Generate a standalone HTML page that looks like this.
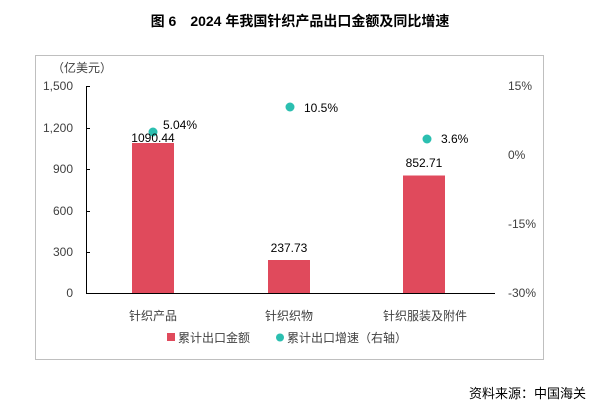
<!DOCTYPE html>
<html><head><meta charset="utf-8"><style>
body{margin:0;background:#fff;width:600px;height:414px;overflow:hidden}
svg text{font-family:"Liberation Sans","Noto Sans CJK SC",sans-serif}
</style></head><body>
<svg width="600" height="414" xmlns="http://www.w3.org/2000/svg">
<text x="300" y="26" font-size="14" font-weight="bold" text-anchor="middle" fill="#000">图 6　2024 年我国针织产品出口金额及同比增速</text>
<rect x="35.5" y="55.5" width="508" height="304" fill="none" stroke="#bfbfbf" stroke-width="1"/>
<text x="52" y="72" font-size="12" fill="#404040">（亿美元）</text>
<g font-size="12" fill="#404040" text-anchor="end">
<text x="73" y="90">1,500</text><text x="73" y="132">1,200</text><text x="73" y="173">900</text>
<text x="73" y="215">600</text><text x="73" y="256">300</text><text x="73" y="297">0</text>
</g>
<g font-size="12" fill="#404040">
<text x="508" y="90">15%</text><text x="508" y="159">0%</text><text x="508" y="228">-15%</text><text x="508" y="297">-30%</text>
</g>
<g stroke="#000" stroke-width="1">
<line x1="86.5" y1="86" x2="86.5" y2="293"/>
<line x1="86" y1="293.5" x2="495" y2="293.5"/>
<line x1="86" y1="86.5" x2="90" y2="86.5"/><line x1="86" y1="128.5" x2="90" y2="128.5"/>
<line x1="86" y1="169.5" x2="90" y2="169.5"/><line x1="86" y1="211.5" x2="90" y2="211.5"/>
<line x1="86" y1="252.5" x2="90" y2="252.5"/>
</g>
<g fill="#e04a5c">
<rect x="132" y="143" width="42" height="150"/>
<rect x="268" y="260" width="42" height="33"/>
<rect x="403" y="175.5" width="42" height="117.5"/>
</g>
<g fill="#2bbfb0">
<circle cx="153" cy="132" r="4.5"/><circle cx="290" cy="107" r="4.5"/><circle cx="427" cy="139" r="4.5"/>
</g>
<g font-size="12" fill="#000">
<text x="153" y="142" text-anchor="middle">1090.44</text>
<text x="163" y="129">5.04%</text>
<text x="289" y="252" text-anchor="middle">237.73</text>
<text x="304" y="112">10.5%</text>
<text x="424" y="167" text-anchor="middle">852.71</text>
<text x="441" y="143">3.6%</text>
</g>
<g font-size="12" fill="#404040" text-anchor="middle">
<text x="153" y="320">针织产品</text><text x="289" y="320">针织织物</text><text x="425" y="320">针织服装及附件</text>
</g>
<rect x="167" y="333" width="8" height="8" fill="#e04a5c"/>
<text x="178" y="342" font-size="12" fill="#404040">累计出口金额</text>
<circle cx="280" cy="337.5" r="4" fill="#2bbfb0"/>
<text x="287" y="342" font-size="12" fill="#404040">累计出口增速（右轴）</text>
<text x="586" y="398" font-size="13" fill="#000" text-anchor="end">资料来源：中国海关</text>
</svg>
</body></html>
